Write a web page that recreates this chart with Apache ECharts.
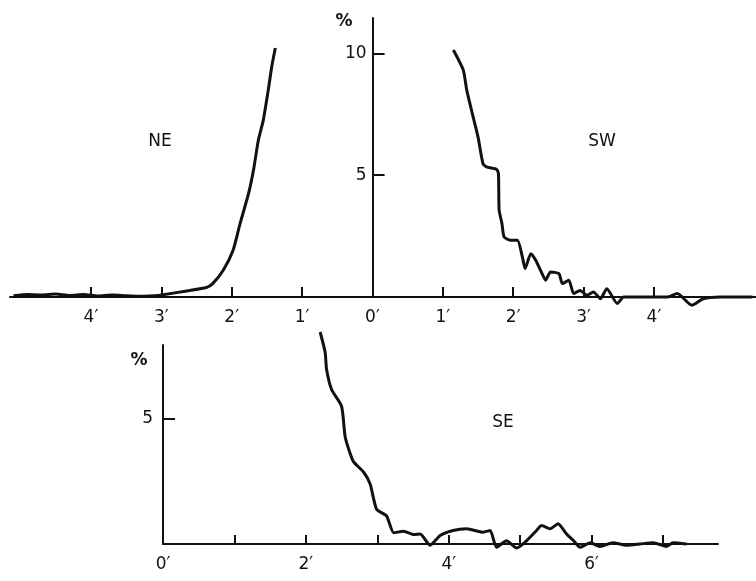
<!DOCTYPE html>
<html>
<head>
<meta charset="utf-8">
<script src="https://cdn.jsdelivr.net/npm/echarts@6/dist/echarts.min.js"></script>
<style>
  html, body { margin: 0; padding: 0; background: #fff; }
  #chart { width: 756px; height: 581px; }
</style>
</head>
<body>
<div id="chart"></div>
<script>
// NE 方向的轮廓（负方向）
const neX = [-5.1, -4.9, -4.7, -4.5, -4.3, -4.1, -3.9, -3.7, -3.5, -3.3, -3.1, -3.02, -2.64, -2.36, -2.27, -2.12, -1.98, -1.88, -1.76, -1.69, -1.62, -1.55, -1.48, -1.43, -1.38];
const neY = [0.05, 0.1, 0.08, 0.12, 0.06, 0.1, 0.04, 0.08, 0.05, 0.03, 0.05, 0.07, 0.25, 0.39, 0.55, 1.1, 1.92, 3.02, 4.25, 5.21, 6.45, 7.27, 8.5, 9.47, 10.22];

// SW 方向的轮廓
const swX = [1.15, 1.29, 1.34, 1.43, 1.50, 1.57, 1.62, 1.71, 1.76, 1.79, 1.80, 1.84, 1.87, 1.96, 2.06, 2.13, 2.17, 2.25, 2.32, 2.41, 2.46, 2.53, 2.65, 2.70, 2.79, 2.86, 2.95, 3.05, 3.14, 3.24, 3.33, 3.48, 3.57, 3.76, 4.04, 4.20, 4.33, 4.54, 4.70, 4.94, 5.4];
const swY = [10.14, 9.32, 8.49, 7.40, 6.57, 5.48, 5.34, 5.28, 5.25, 5.08, 3.57, 3.02, 2.47, 2.33, 2.33, 1.65, 1.17, 1.78, 1.51, 0.96, 0.69, 1.03, 0.96, 0.55, 0.69, 0.14, 0.27, 0.07, 0.21, -0.07, 0.34, -0.27, 0, 0, 0, 0, 0.14, -0.34, -0.07, 0, 0];

// SE 方向的轮廓
const seX = [2.20, 2.27, 2.29, 2.36, 2.50, 2.55, 2.62, 2.67, 2.81, 2.90, 2.99, 3.13, 3.23, 3.37, 3.51, 3.60, 3.74, 3.88, 4.06, 4.25, 4.48, 4.58, 4.67, 4.81, 4.95, 5.09, 5.23, 5.30, 5.42, 5.53, 5.65, 5.74, 5.84, 5.98, 6.12, 6.30, 6.49, 6.68, 6.86, 7.05, 7.14, 7.33];
const seY = [8.48, 7.67, 6.99, 6.18, 5.51, 4.29, 3.62, 3.28, 2.87, 2.40, 1.39, 1.12, 0.45, 0.51, 0.38, 0.40, -0.05, 0.34, 0.54, 0.61, 0.47, 0.54, -0.13, 0.13, -0.16, 0.13, 0.54, 0.74, 0.61, 0.81, 0.40, 0.16, -0.13, 0.05, -0.1, 0.05, -0.05, 0, 0.05, -0.1, 0.05, 0];

// 刻度
const topTicks = [-4, -3, -2, -1, 0, 1, 2, 3, 4];
const topYTicks = [5, 10];
const bottomTicks = [1, 2, 3, 4, 5, 6, 7];
const bottomLabels = [0, 2, 4, 6];
const bottomYTicks = [5];

const zip = (xs, ys) => xs.map((x, i) => [x, ys[i]]);

const font = 'DejaVu Sans';
const black = '#111';

const chart = echarts.init(document.getElementById('chart'));

const lineStyle = { color: black, width: 2 };

const option = {
  animation: false,
  backgroundColor: '#fff',
  grid: [
    { left: 10, right: 0, top: 18, bottom: 284, outerBoundsMode: 'none', containLabel: false },
    { left: 163, right: 38, top: 345, bottom: 37, outerBoundsMode: 'none', containLabel: false }
  ],
  xAxis: [
    {
      type: 'value', gridIndex: 0, min: -5.15, max: 5.45,
      axisLine: { onZero: false, lineStyle: lineStyle },
      axisTick: { inside: true, length: 10, customValues: topTicks, lineStyle: lineStyle },
      axisLabel: {
        customValues: topTicks, margin: 12, color: black, fontSize: 17, fontFamily: font,
        formatter: v => Math.abs(v) + '′'
      },
      splitLine: { show: false }
    },
    {
      type: 'value', gridIndex: 1, min: 0, max: 7.77,
      axisLine: { onZero: false, lineStyle: lineStyle },
      axisTick: { inside: true, length: 9, customValues: bottomTicks, lineStyle: lineStyle },
      axisLabel: {
        customValues: bottomLabels, margin: 12, color: black, fontSize: 17, fontFamily: font,
        formatter: v => v + '′'
      },
      splitLine: { show: false }
    }
  ],
  yAxis: [
    {
      // 纵轴放在 0′ 处：grid 左边 10 + 5.15 个单位
      type: 'value', gridIndex: 0, min: 0, max: 11.45, offset: -362.6,
      axisLine: { onZero: false, lineStyle: lineStyle },
      axisTick: { inside: true, length: 12, customValues: topYTicks, lineStyle: lineStyle },
      axisLabel: { customValues: topYTicks, margin: 6, color: black, fontSize: 17, fontFamily: font },
      splitLine: { show: false }
    },
    {
      type: 'value', gridIndex: 1, min: 0, max: 7.96,
      axisLine: { onZero: false, lineStyle: lineStyle },
      axisTick: { inside: true, length: 12, customValues: bottomYTicks, lineStyle: lineStyle },
      axisLabel: { customValues: bottomYTicks, margin: 10, color: black, fontSize: 17, fontFamily: font },
      splitLine: { show: false }
    }
  ],
  series: [
    {
      name: 'NE', type: 'line', xAxisIndex: 0, yAxisIndex: 0, data: zip(neX, neY),
      showSymbol: false, smooth: 0.2, clip: false, lineStyle: { color: black, width: 3 }
    },
    {
      name: 'SW', type: 'line', xAxisIndex: 0, yAxisIndex: 0, data: zip(swX, swY),
      showSymbol: false, smooth: 0.2, clip: false, lineStyle: { color: black, width: 3 }
    },
    {
      name: 'SE', type: 'line', xAxisIndex: 1, yAxisIndex: 1, data: zip(seX, seY),
      showSymbol: false, smooth: 0.2, clip: false, lineStyle: { color: black, width: 3 }
    }
  ],
  graphic: [
    { type: 'text', x: 160, y: 142, style: { text: 'NE', font: '17px ' + font, fill: black, align: 'center', verticalAlign: 'middle' } },
    { type: 'text', x: 602, y: 142, style: { text: 'SW', font: '17px ' + font, fill: black, align: 'center', verticalAlign: 'middle' } },
    { type: 'text', x: 503, y: 423, style: { text: 'SE', font: '17px ' + font, fill: black, align: 'center', verticalAlign: 'middle' } },
    { type: 'text', x: 344, y: 22, style: { text: '%', font: 'bold 17px ' + font, fill: black, align: 'center', verticalAlign: 'middle' } },
    { type: 'text', x: 139, y: 361, style: { text: '%', font: 'bold 17px ' + font, fill: black, align: 'center', verticalAlign: 'middle' } }
  ]
};

chart.setOption(option);
</script>
</body>
</html>
